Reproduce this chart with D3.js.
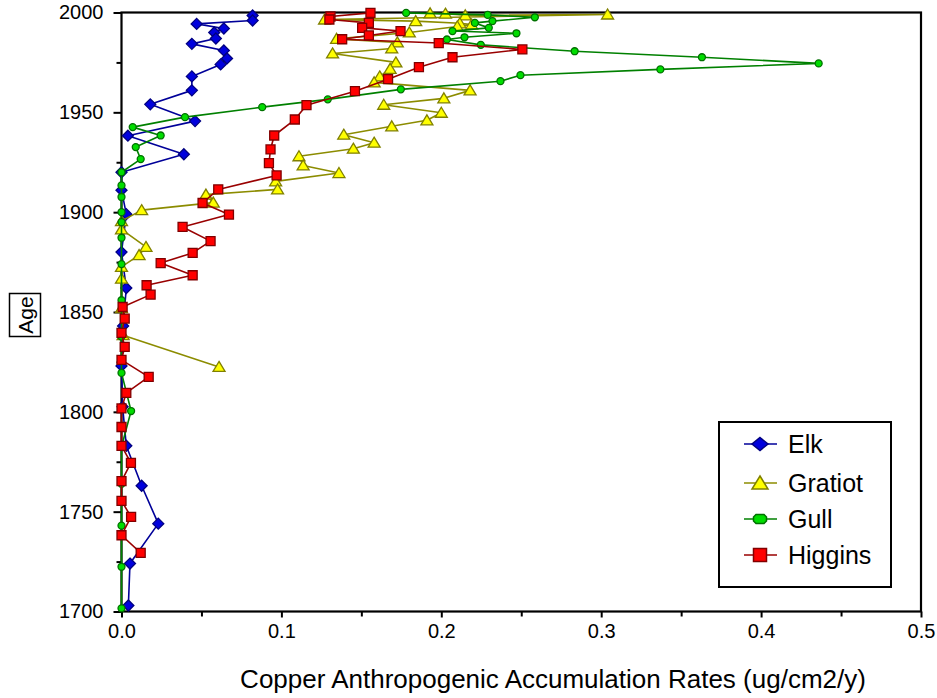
<!DOCTYPE html>
<html>
<head>
<meta charset="utf-8">
<script src="https://cdn.jsdelivr.net/npm/d3@7"></script>
<style>
html,body{margin:0;padding:0;background:#fff;}
svg{display:block;font-family:"Liberation Sans",Arial,sans-serif;}
</style>
</head>
<body>
<svg id="chart" width="937" height="698"></svg>
<script>
// ---- data (age in years AD, copper anthropogenic accumulation rate ug/cm2/y) ----
const seriesNames = ["Elk", "Gratiot", "Gull", "Higgins"];

const elkAge = [1998.5,1996,1994.3,1992,1990,1987,1984.3,1981,1977,1974,1968,1961,1954,1945.6,1938.3,1929,1920,1911,1899,1880,1862,1843,1823,1802.5,1783,1763,1744,1724,1703];
const elkCu  = [0.082,0.082,0.047,0.064,0.058,0.059,0.044,0.064,0.066,0.062,0.044,0.044,0.018,0.046,0.004,0.039,0.0,0.0,0.003,0.0,0.003,0.001,0.0,0.0007,0.003,0.0126,0.023,0.0053,0.0043];

const gratiotAge = [1999.6,1999.4,1998.6,1999.0,1996.5,1995.7,1994.6,1994.0,1993.0,1990.0,1986.8,1985.0,1982.0,1979.5,1975.0,1971.8,1968.0,1965.0,1961.0,1957.0,1953.8,1949.8,1946.0,1943.0,1938.8,1934.8,1931.8,1928.0,1923.4,1919.6,1915.4,1911.4,1908.8,1904.8,1901.0,1895.5,1891.4,1882.6,1878.5,1872.6,1866.7,1852.0,1838.4,1822.5];
const gratiotCu  = [0.193,0.2026,0.215,0.304,0.127,0.184,0.2116,0.219,0.21,0.18,0.1345,0.1725,0.169,0.132,0.1716,0.168,0.1615,0.158,0.218,0.2016,0.164,0.200,0.191,0.169,0.139,0.158,0.145,0.111,0.1136,0.136,0.0964,0.0976,0.0528,0.0574,0.0126,0.0,0.0,0.0153,0.011,0.0,0.0,0.0,0.001,0.061];

const gullAge = [1999.8,1998.8,1997.6,1995.7,1994.8,1992.3,1990.7,1989.6,1987.6,1986.5,1983.8,1980.6,1977.6,1974.5,1971.5,1968.6,1965.6,1961.5,1956.5,1952.6,1947.6,1942.6,1938.4,1932.6,1926.6,1920,1913.4,1907.6,1900,1895,1887.2,1874,1855.9,1837.7,1819.5,1800.4,1782.5,1764,1743,1722.4,1701.6];
const gullCu  = [0.178,0.229,0.2585,0.232,0.221,0.2297,0.207,0.247,0.2145,0.2035,0.2247,0.2834,0.363,0.436,0.337,0.2495,0.237,0.1747,0.129,0.088,0.0397,0.007,0.0245,0.0089,0.012,0.0,0.0,0.0,0.0,0.0,0.0,0.0,0.0,0.0,0.0,0.006,0.0,0.0,0.0,0.0,0.0];

const higginsAge = [1999.8,1998,1996.5,1994.8,1992.3,1990.7,1988.5,1986.6,1984.7,1981.5,1977.6,1972.6,1966.6,1960.6,1953.6,1946.4,1938.4,1931.4,1924.6,1918.4,1911.4,1904.6,1898.8,1892.6,1885.5,1879.6,1874.5,1868.4,1863.4,1858.7,1852.5,1846.7,1839.5,1832.5,1826,1817.5,1809.5,1801.7,1792.4,1783,1774.4,1765.3,1755.4,1747.4,1738.2,1729.4];
const higginsCu  = [0.1557,0.1307,0.13,0.1547,0.1505,0.1745,0.1547,0.138,0.1984,0.2507,0.207,0.186,0.1667,0.146,0.1157,0.1084,0.0955,0.0932,0.0922,0.097,0.0605,0.0507,0.0672,0.0382,0.0557,0.0445,0.0245,0.0445,0.0157,0.0182,0.0007,0.002,0.0,0.002,0.0,0.017,0.003,0.0,0.0,0.0,0.0059,0.0,0.0,0.006,0.0,0.012];

const xTicks = [0.0,0.1,0.2,0.3,0.4,0.5];
const xMinorTicks = [0.05,0.15,0.25,0.35,0.45];
const yTicks = [1700,1750,1800,1850,1900,1950,2000];
const yMinorTicks = [1725,1775,1825,1875,1925,1975];
const xTitle = "Copper Anthropogenic Accumulation Rates (ug/cm2/y)";
const yTitle = "Age";

// ---- styles ----
const styles = {
  Elk:     {line:"#000099", fill:"#0000dd", stroke:"#000080", shape:"diamond"},
  Gratiot: {line:"#8c8c00", fill:"#ffff00", stroke:"#808000", shape:"triangle"},
  Gull:    {line:"#008000", fill:"#00dd00", stroke:"#007000", shape:"circle"},
  Higgins: {line:"#990000", fill:"#ff0000", stroke:"#800000", shape:"square"}
};

const series = [
  {name:"Elk", pts: elkAge.map((a,i)=>({age:a, v:elkCu[i]}))},
  {name:"Gratiot", pts: gratiotAge.map((a,i)=>({age:a, v:gratiotCu[i]}))},
  {name:"Gull", pts: gullAge.map((a,i)=>({age:a, v:gullCu[i]}))},
  {name:"Higgins", pts: higginsAge.map((a,i)=>({age:a, v:higginsCu[i]}))}
];

const svg = d3.select("#chart");
const x = d3.scaleLinear().domain([0,0.5]).range([121.5,921]);
const y = d3.scaleLinear().domain([1700,2000]).range([611.5,12.5]);

function markerPath(shape){
  switch(shape){
    case "diamond": return "M0,-5.5L5.5,0L0,5.5L-5.5,0Z";
    case "triangle": return "M0,-5.5L6,4.5L-6,4.5Z";
    case "square": return "M-4.5,-4.5H4.5V4.5H-4.5Z";
    case "circle": return d3.symbol(d3.symbolCircle, 38)();
  }
}

// axes
const fontSize = 20;
const gx = svg.append("g").attr("transform",`translate(0,${y(1700)})`)
  .call(d3.axisBottom(x).tickValues(xTicks).tickSize(6).tickPadding(5).tickFormat(d3.format(".1f")));
svg.append("g").attr("transform",`translate(0,${y(1700)})`)
  .call(d3.axisBottom(x).tickValues(xMinorTicks).tickSize(5).tickFormat(""));
const gy = svg.append("g").attr("transform",`translate(${x(0)},0)`)
  .call(d3.axisLeft(y).tickValues(yTicks).tickSize(8).tickPadding(10).tickFormat(d3.format("d")));
svg.append("g").attr("transform",`translate(${x(0)},0)`)
  .call(d3.axisLeft(y).tickValues(yMinorTicks).tickSize(5).tickFormat(""));
svg.selectAll(".domain").remove();
svg.selectAll(".tick line").attr("stroke","#000").attr("stroke-width",2);
svg.selectAll(".tick text").attr("font-size",fontSize).attr("fill","#000")
  .attr("font-family","'Liberation Sans',Arial,sans-serif");
gx.selectAll(".tick text").attr("dy","0.75em");

// frame
svg.append("rect").attr("x",x(0)).attr("y",y(2000)).attr("width",x(0.5)-x(0)).attr("height",y(1700)-y(2000))
  .attr("fill","none").attr("stroke","#000").attr("stroke-width",2.2);

// series
const line = d3.line().x(d=>x(d.v)).y(d=>y(d.age));
series.forEach(s=>{
  const st = styles[s.name];
  const g = svg.append("g");
  g.append("path").datum(s.pts).attr("d",line).attr("fill","none")
    .attr("stroke",st.line).attr("stroke-width",1.6).attr("stroke-linejoin","round");
  g.selectAll("path.m").data(s.pts).join("path").attr("class","m")
    .attr("d",markerPath(st.shape))
    .attr("transform",d=>`translate(${x(d.v)},${y(d.age)})`)
    .attr("fill",st.fill).attr("stroke",st.stroke).attr("stroke-width",1.3);
});

// x title
svg.append("text").attr("x",553).attr("y",688).attr("text-anchor","middle")
  .attr("font-size",26).attr("fill","#000").text(xTitle);

// y title with box
const yt = svg.append("g").attr("transform","translate(25,315) rotate(-90)");
yt.append("rect").attr("x",-21.5).attr("y",-15.5).attr("width",43).attr("height",31)
  .attr("fill","none").attr("stroke","#000").attr("stroke-width",1.5);
yt.append("text").attr("x",0).attr("y",7.5).attr("text-anchor","middle")
  .attr("font-size",21).attr("fill","#000").text(yTitle);

// legend
const lg = svg.append("g");
lg.append("rect").attr("x",719).attr("y",422).attr("width",172).attr("height",165)
  .attr("fill","#fff").attr("stroke","#000").attr("stroke-width",2);
const legY = [444, 483, 519, 555];
seriesNames.forEach((n,i)=>{
  const st = styles[n];
  const yy = legY[i];
  lg.append("line").attr("x1",744).attr("x2",777).attr("y1",yy).attr("y2",yy)
    .attr("stroke",st.line).attr("stroke-width",1.3);
  let mp = markerPath(st.shape);
  let tr = `translate(760,${yy})`;
  if(st.shape==="circle"){ mp = "M-4,-4.5H4L6.5,-2V2L4,4.5H-4L-6.5,2V-2Z"; }
  if(st.shape==="diamond"){ mp = "M0,-6.5L8,0L0,6.5L-8,0Z"; }
  if(st.shape==="triangle"){ mp = "M0,-7L8,6L-8,6Z"; }
  if(st.shape==="square"){ mp = "M-6.5,-6.5H6.5V6.5H-6.5Z"; }
  lg.append("path").attr("d",mp).attr("transform",tr)
    .attr("fill",st.fill).attr("stroke",st.stroke).attr("stroke-width",1.5);
  lg.append("text").attr("x",788).attr("y",yy+9).attr("font-size",25).attr("fill","#000").text(n);
});
</script>
</body>
</html>
